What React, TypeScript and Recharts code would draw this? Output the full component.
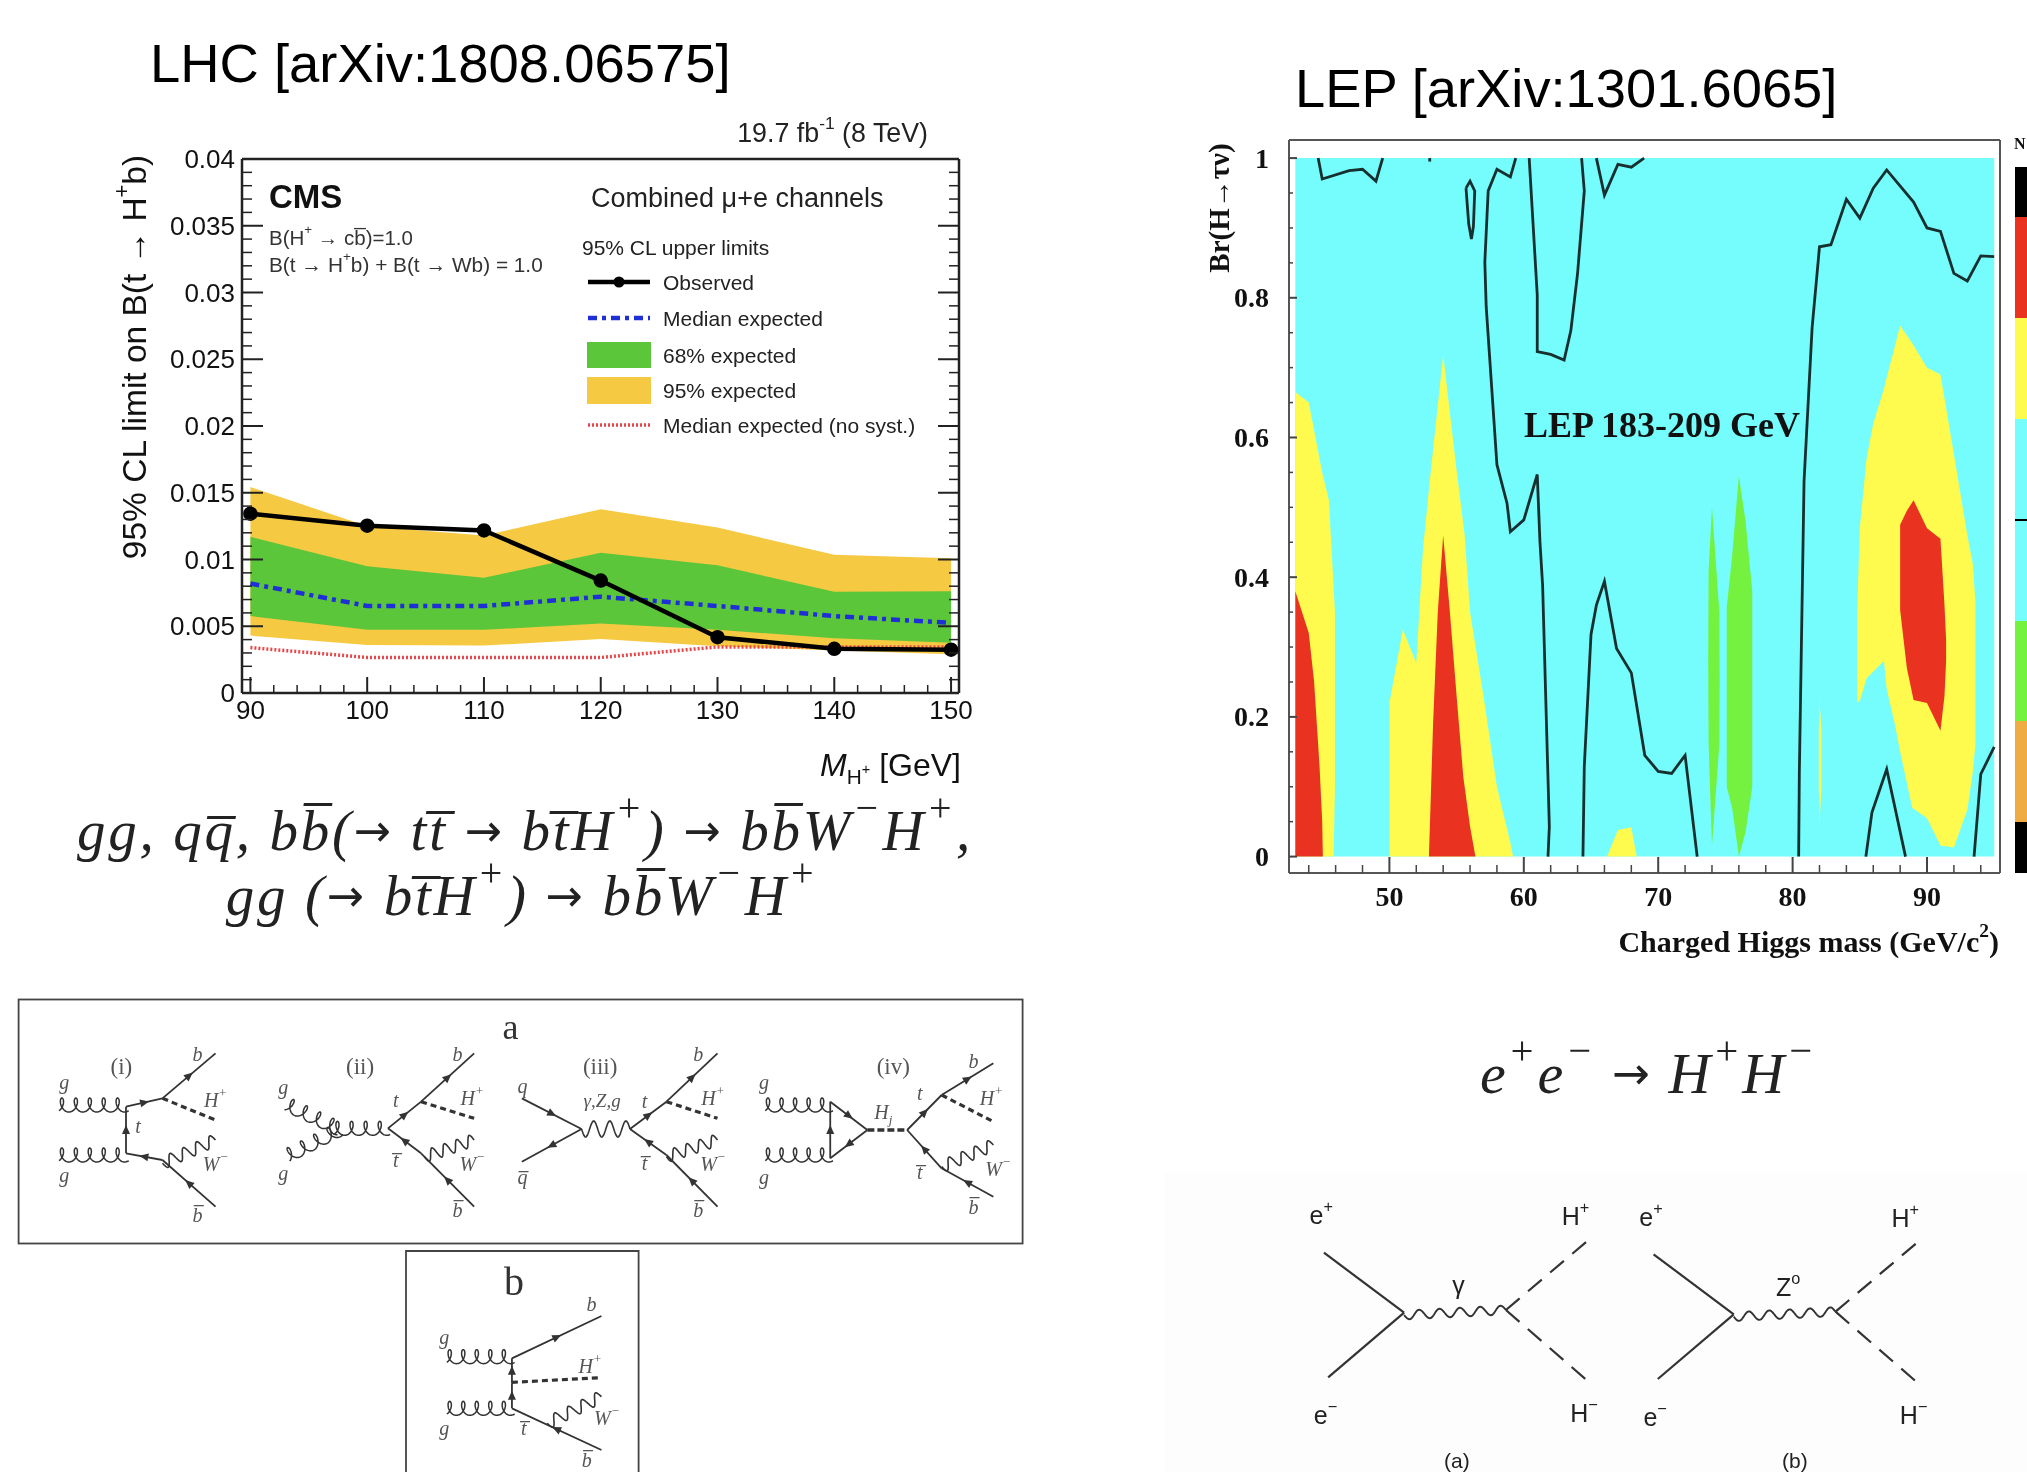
import { Area, ComposedChart, Line, XAxis, YAxis } from "recharts";

// ---- LHC limit plot values
const masses = [90, 100, 110, 120, 130, 140, 150];
const observed = [0.01343, 0.01253, 0.01218, 0.00842, 0.00418, 0.00331, 0.00324];
const median = [0.0082, 0.00652, 0.00652, 0.00721, 0.00652, 0.00576, 0.00525];
const medianNoSyst = [0.0034, 0.00266, 0.00266, 0.00266, 0.00345, 0.00345, 0.00345];
const up68 = [0.0117, 0.0095, 0.00863, 0.0105, 0.00956, 0.00759, 0.00763];
const low68 = [0.00576, 0.00473, 0.00473, 0.00521, 0.00473, 0.0041, 0.00376];
const up95 = [0.01543, 0.0125, 0.0118, 0.01377, 0.0124, 0.01035, 0.0101];
const low95 = [0.0043, 0.00359, 0.00355, 0.00404, 0.0035, 0.00318, 0.0029];

const lhcRows = masses.map((m, i) => ({
  m,
  observed: observed[i],
  median: median[i],
  medianNoSyst: medianNoSyst[i],
  band68: [low68[i], up68[i]],
  band95: [low95[i], up95[i]],
}));

const lhcXTicks = Array.from({ length: 31 }, (_, i) => 90 + i * 2);
const lhcYTicks = Array.from({ length: 41 }, (_, i) => Number((i * 0.001).toFixed(3)));

// ---- LEP exclusion regions: [mass, low, high]
const cyanAll = [[43, 0, 1], [95, 0, 1]];
const yellowLeft = [[43, 0, 0.665], [44, 0, 0.65], [45, 0, 0.55], [45.5, 0, 0.51], [45.95, 0, 0.35], [45.95, 0, 0.1], [45.85, 0, 0]];
const redLeft = [[43, 0, 0.38], [44, 0, 0.32], [44.4, 0, 0.25], [44.8, 0, 0.13], [45, 0, 0.05], [45.05, 0, 0]];
const yellowMid = [[50, 0, 0.22], [51, 0, 0.325], [52, 0, 0.277], [52.5, 0, 0.44], [53, 0, 0.537], [54, 0, 0.718], [55, 0, 0.553], [55.6, 0, 0.46], [56, 0, 0.35], [57, 0, 0.23], [58, 0, 0.1], [59, 0, 0.02], [59.2, 0, 0]];
const redMid = [[52.94, 0, 0], [53.25, 0, 0.19], [53.6, 0, 0.35], [54, 0, 0.46], [54.5, 0, 0.35], [55, 0, 0.23], [55.5, 0, 0.114], [56, 0, 0.043], [56.4, 0, 0]];
const yellowSmall = [[66.2, 0, 0], [67, 0, 0.038], [68, 0, 0.042], [68.4, 0, 0]];
const yellowSliver = [[81.95, 0.1, 0.18], [82, 0.047, 0.224], [82.15, 0.1, 0.18]];
const greenA = [[73.72, 0.28, 0.28], [73.75, 0.16, 0.41], [74, 0.016, 0.5], [74.55, 0.16, 0.35], [74.57, 0.25, 0.25]];
const greenB = [[75.1, 0.1, 0.357], [75.5, 0.07, 0.43], [76, 0, 0.545], [76.5, 0.035, 0.48], [77, 0.1, 0.38]];
const yellowRight = [[84.8, 0.22, 0.35], [85, 0.223, 0.47], [85.5, 0.255, 0.57], [86, 0.265, 0.62], [86.8, 0.28, 0.67], [87, 0.24, 0.686], [87.6, 0.19, 0.73], [88, 0.15, 0.76], [88.9, 0.07, 0.735], [90, 0.055, 0.7], [91, 0.016, 0.69], [92, 0.013, 0.576], [93, 0.067, 0.46], [93.4, 0.12, 0.42], [93.6, 0.16, 0.365]];
const redRight = [[88, 0.353, 0.475], [88.5, 0.27, 0.495], [89, 0.224, 0.51], [90, 0.22, 0.47], [91, 0.18, 0.455], [91.3, 0.23, 0.36], [91.42, 0.28, 0.31]];

// ---- LEP contour lines: [mass, Br]
const contourA = [[44.7, 1], [45, 0.97], [47, 0.982], [48, 0.984], [49, 0.967], [49.5, 1]];
const contourB = [[53, 0.995], [53, 1]];
const contourC = [[55.7, 0.957], [56, 0.967], [56.35, 0.953], [56.25, 0.902], [56.1, 0.884], [55.9, 0.906], [55.7, 0.957]];
const contourD = [[59.4, 1], [59, 0.973], [58, 0.984], [57.35, 0.953], [57.1, 0.851], [57.2, 0.788], [58, 0.561], [58.75, 0.506], [59, 0.465], [60, 0.482], [61, 0.547], [61.2, 0.451], [61.4, 0.388], [61.9, 0.043], [61.8, 0]];
const contourE = [[60.4, 1], [61, 0.804], [61, 0.723], [62, 0.719], [63, 0.711], [63.5, 0.753], [64, 0.835], [64.5, 0.953], [64.3, 1]];
const contourF = [[65.4, 1], [66, 0.947], [67, 0.991], [68, 0.987], [68.95, 1]];
const contourG = [[64.4, 0], [64.5, 0.129], [65, 0.318], [65.4, 0.36], [66, 0.394], [66.9, 0.298], [68, 0.263], [69, 0.145], [70, 0.122], [71, 0.119], [72, 0.145], [72.9, 0]];
const contourH = [[80.45, 0], [80.5, 0.12], [80.85, 0.537], [81.45, 0.757], [82, 0.873], [82.85, 0.876], [84, 0.941], [85, 0.914], [86, 0.957], [87, 0.983], [89, 0.937], [90, 0.9], [91, 0.895], [92, 0.835], [93, 0.824], [94, 0.86], [95, 0.859]];
const contourI = [[85.45, 0], [85.9, 0.063], [87, 0.125], [88.4, 0]];
const contourJ = [[93.5, 0], [94, 0.118], [95, 0.157]];

const filledRegions: [number[][], string][] = [
  [cyanAll, "#75fdfe"],
  [yellowLeft, "#fefb4e"],
  [redLeft, "#e9321f"],
  [yellowMid, "#fefb4e"],
  [redMid, "#e9321f"],
  [yellowSmall, "#fefb4e"],
  [yellowSliver, "#fefb4e"],
  [greenA, "#74f23f"],
  [greenB, "#74f23f"],
  [yellowRight, "#fefb4e"],
  [redRight, "#e9321f"],
];
const contours = [contourA, contourB, contourC, contourD, contourE, contourF, contourG, contourH, contourI, contourJ];

const lepXTicks = Array.from({ length: 26 }, (_, i) => 44 + i * 2);
const lepYTicks = Array.from({ length: 21 }, (_, i) => Number((i * 0.05).toFixed(2)));

// colour key cut off by the right page edge
const keyColors = ["#000", "#e9321f", "#fefb4e", "#75fdfe", "#74f23f", "#efac45", "#000"];
const keyEdges = [167, 217, 318, 419, 621, 721, 822, 873];

const SANS = "'Liberation Sans', Arial, sans-serif";
const SERIF = "'Liberation Serif', 'Times New Roman', serif";

type TickSide = "bottom" | "top" | "left" | "right";

function frameTick(
  side: TickSide,
  isMajor: (v: number) => boolean,
  majorLen: number,
  minorLen: number,
  stroke: string,
  label?: { font: string; size: number; weight: number; gap: number },
) {
  return (props: any) => {
    const { x, y, payload } = props;
    const v = payload.value as number;
    const major = isMajor(v);
    const len = major ? majorLen : minorLen;
    const dx = side === "left" ? len : side === "right" ? -len : 0;
    const dy = side === "bottom" ? -len : side === "top" ? len : 0;
    return (
      <g>
        <line x1={x} y1={y} x2={x + dx} y2={y + dy} stroke={stroke} strokeWidth={major ? 2 : 1.5} />
        {label && major && side === "bottom" && (
          <text x={x} y={y + label.gap} textAnchor="middle" dominantBaseline="central" fontFamily={label.font} fontSize={label.size} fontWeight={label.weight} fill="#111">
            {v}
          </text>
        )}
        {label && major && side === "left" && (
          <text x={x - label.gap} y={y} textAnchor="end" dominantBaseline="central" fontFamily={label.font} fontSize={label.size} fontWeight={label.weight} fill="#111">
            {v}
          </text>
        )}
      </g>
    );
  };
}

function LhcChart() {
  const xDomain: [number, number] = [89.28, 150.68];
  const yDomain: [number, number] = [0, 0.04];
  const majorX = (v: number) => v % 10 === 0;
  const majorY = (v: number) => Math.round(v * 1000) % 5 === 0;
  const frame = { stroke: "#222", strokeWidth: 2.5 };
  const tickFont = { font: SANS, size: 26, weight: 400, gap: 17 };
  const common = { allowDataOverflow: true, interval: 0 as const, tickSize: 0, tickMargin: 0, tickLine: false, axisLine: frame };
  return (
    <div style={{ position: "absolute", left: 140, top: 130 }}>
      <ComposedChart width={840} height={610} data={lhcRows} margin={{ left: 101, right: 20, top: 28, bottom: 46 }}>
        <XAxis dataKey="m" type="number" domain={xDomain} ticks={lhcXTicks} height={1} {...common} tick={frameTick("bottom", majorX, 16, 8, "#222", tickFont)} />
        <XAxis xAxisId="top" orientation="top" type="number" domain={xDomain} ticks={lhcXTicks} height={1} {...common} tick={frameTick("top", majorX, 16, 8, "#222")} />
        <YAxis type="number" domain={yDomain} ticks={lhcYTicks} width={1} {...common} tick={frameTick("left", majorY, 21, 10, "#222", { ...tickFont, gap: 7 })} />
        <YAxis yAxisId="right" orientation="right" type="number" domain={yDomain} ticks={lhcYTicks} width={1} {...common} tick={frameTick("right", majorY, 21, 10, "#222")} />
        <Area dataKey="band95" fill="#f6c942" fillOpacity={1} stroke="none" isAnimationActive={false} />
        <Area dataKey="band68" fill="#5cc63b" fillOpacity={1} stroke="none" isAnimationActive={false} />
        <Line dataKey="medianNoSyst" stroke="#e8474a" strokeWidth={3.5} strokeDasharray="2 2" dot={false} isAnimationActive={false} />
        <Line dataKey="median" stroke="#1f2fd8" strokeWidth={4.5} strokeDasharray="9 5 4 5" dot={false} isAnimationActive={false} />
        <Line dataKey="observed" stroke="#000" strokeWidth={4.5} dot={{ r: 5, fill: "#000", stroke: "#000" }} isAnimationActive={false} />
      </ComposedChart>
    </div>
  );
}

function LepChart() {
  const xDomain: [number, number] = [42.53, 95.43];
  const yDomain: [number, number] = [-0.0235, 1.0259];
  const majorX = (v: number) => v % 10 === 0;
  const majorY = (v: number) => Math.round(v * 100) % 20 === 0;
  const frame = { stroke: "#555", strokeWidth: 2 };
  const tickFont = { font: SERIF, size: 28, weight: 700, gap: 39 };
  const common = { allowDataOverflow: true, interval: 0 as const, tickSize: 0, tickMargin: 0, tickLine: false, axisLine: frame };
  const noTick = () => <g />;
  return (
    <div style={{ position: "absolute", left: 1190, top: 110 }}>
      <ComposedChart width={825} height={810} margin={{ left: 98, right: 14, top: 29, bottom: 46 }}>
        <XAxis dataKey="x" type="number" domain={xDomain} ticks={lepXTicks} height={1} {...common} tick={frameTick("bottom", majorX, 16, 8, "#444", { ...tickFont, gap: 23 })} />
        <XAxis xAxisId="top" orientation="top" type="number" domain={xDomain} ticks={lepXTicks} height={1} {...common} tick={noTick} />
        <YAxis type="number" domain={yDomain} ticks={lepYTicks} width={1} {...common} tick={frameTick("left", majorY, 8, 4, "#444", { ...tickFont, gap: 20 })} />
        <YAxis yAxisId="right" orientation="right" type="number" domain={yDomain} ticks={lepYTicks} width={1} {...common} tick={noTick} />
        {filledRegions.map(([region, color], i) => (
          <Area
            key={i}
            data={region.map(([x, lo, hi]) => ({ x, range: [lo, hi] }))}
            dataKey="range"
            fill={color}
            fillOpacity={1}
            stroke="none"
            isAnimationActive={false}
          />
        ))}
        {contours.map((c, i) => (
          <Line
            key={i}
            data={c.map(([x, y]) => ({ x, y }))}
            dataKey="y"
            stroke="#17302f"
            strokeWidth={2.8}
            dot={false}
            isAnimationActive={false}
          />
        ))}
      </ComposedChart>
    </div>
  );
}

// ---- hand drawn Feynman diagram helpers, pixel coordinates
type P = [number, number];
const inkA = "#333";

function polyD(pts: P[]) {
  return pts.map((p, i) => `${i ? "L" : "M"}${p[0].toFixed(1)} ${p[1].toFixed(1)}`).join("");
}
function along(a: P, b: P, make: (t: number, L: number) => [number, number], steps = 120) {
  const L = Math.hypot(b[0] - a[0], b[1] - a[1]);
  const ux = (b[0] - a[0]) / L;
  const uy = (b[1] - a[1]) / L;
  const pts: P[] = [];
  for (let i = 0; i <= steps; i++) {
    const [u, v] = make(i / steps, L);
    pts.push([a[0] + ux * u - uy * v, a[1] + uy * u + ux * v]);
  }
  return polyD(pts);
}
function Fermion({ a, b, arrow = true, w = 1.8 }: { a: P; b: P; arrow?: boolean; w?: number }) {
  const mx = (a[0] + b[0]) / 2;
  const my = (a[1] + b[1]) / 2;
  const ang = (Math.atan2(b[1] - a[1], b[0] - a[0]) * 180) / Math.PI;
  return (
    <g>
      <line x1={a[0]} y1={a[1]} x2={b[0]} y2={b[1]} stroke={inkA} strokeWidth={w} />
      {arrow && <path d="M5 0L-4 -4L-4 4Z" transform={`translate(${mx} ${my}) rotate(${ang})`} fill={inkA} />}
    </g>
  );
}
function Gluon({ a, b, n = 5, r = 7 }: { a: P; b: P; n?: number; r?: number }) {
  const d = along(
    a,
    b,
    (t, L) => {
      const s = 2 * Math.PI * n * (t + 0.02);
      return [t * L + 4.5 * Math.sin(s), r * Math.cos(s)];
    },
    240,
  );
  return <path d={d} fill="none" stroke={inkA} strokeWidth={1.5} />;
}
function Wiggle({ a, b, n = 4, amp = 6, w = 1.6 }: { a: P; b: P; n?: number; amp?: number; w?: number }) {
  const d = along(a, b, (t, L) => [t * L, amp * Math.sin(2 * Math.PI * n * t)]);
  return <path d={d} fill="none" stroke={inkA} strokeWidth={w} />;
}
function Dash({ a, b, w = 3.2, dash = "6 4" }: { a: P; b: P; w?: number; dash?: string }) {
  return <line x1={a[0]} y1={a[1]} x2={b[0]} y2={b[1]} stroke={inkA} strokeWidth={w} strokeDasharray={dash} />;
}

// left-bottom panel: zoom crop units to page pixels
const A = (x: number, y: number): P => [x / 1.508, 980 + y / 3];
// right-bottom panel
const B = (x: number, y: number): P => [1200 + x / 1.896, 1030 + y / 3];

function Lab({ p, children, size = 20, anchor = "middle", font = SERIF, italic = true, fill = "#555" }: any) {
  return (
    <text x={p[0]} y={p[1]} fontSize={size} textAnchor={anchor} dominantBaseline="central" fontFamily={font} fontStyle={italic ? "italic" : "normal"} fill={fill}>
      {children}
    </text>
  );
}
const Sup = ({ children, size = "65%" }: any) => (
  <tspan baselineShift="super" fontSize={size}>
    {children}
  </tspan>
);
const Sub = ({ children }: any) => (
  <tspan baselineShift="sub" fontSize="65%">
    {children}
  </tspan>
);
const bar = (s: string) => `${s}\u0305`;
const Arrow = () => (
  <tspan fontFamily="'DejaVu Sans'" fontStyle="normal" fontSize="78%">
    →
  </tspan>
);

function ProductionDiagrams() {
  return (
    <g>
      <rect x={18.6} y={999.5} width={1004} height={244} fill="#fff" stroke="#444" strokeWidth={1.8} />
      <path d={`M406 1480V1251H638.6V1480`} fill="#fff" stroke="#444" strokeWidth={1.8} />
      <Lab p={A(770, 140)} size={36} italic={false} fill="#333">a</Lab>
      <Lab p={A(775, 905)} size={40} italic={false} fill="#333">b</Lab>

      {/* (i) */}
      <Gluon a={A(85, 375)} b={A(190, 375)} />
      <Gluon a={A(85, 525)} b={A(190, 525)} />
      <Fermion a={A(190, 520)} b={A(190, 380)} />
      <Fermion a={A(190, 380)} b={A(245, 355)} />
      <Fermion a={A(245, 355)} b={A(325, 220)} />
      <Dash a={A(245, 355)} b={A(325, 420)} />
      <Fermion a={A(245, 540)} b={A(190, 520)} />
      <Fermion a={A(325, 680)} b={A(245, 540)} />
      <Wiggle a={A(245, 550)} b={A(325, 480)} />
      <Lab p={A(97, 305)}>g</Lab><Lab p={A(97, 585)}>g</Lab>
      <Lab p={A(183, 258)} size={23} italic={false}>(i)</Lab>
      <Lab p={A(298, 222)}>b</Lab><Lab p={A(325, 360)}>H<Sup>+</Sup></Lab>
      <Lab p={A(208, 438)}>t</Lab><Lab p={A(325, 552)}>W<Sup>−</Sup></Lab><Lab p={A(298, 705)}>{bar("b")}</Lab>

      {/* (ii) */}
      <Gluon a={A(430, 370)} b={A(510, 445)} n={4} />
      <Gluon a={A(430, 530)} b={A(510, 450)} n={4} />
      <Gluon a={A(500, 445)} b={A(585, 445)} n={4} />
      <Fermion a={A(585, 445)} b={A(635, 365)} />
      <Fermion a={A(635, 365)} b={A(715, 220)} />
      <Dash a={A(635, 365)} b={A(715, 415)} />
      <Fermion a={A(635, 520)} b={A(585, 445)} />
      <Fermion a={A(715, 680)} b={A(635, 520)} />
      <Wiggle a={A(640, 530)} b={A(715, 480)} />
      <Lab p={A(427, 320)}>g</Lab><Lab p={A(427, 580)}>g</Lab>
      <Lab p={A(543, 258)} size={23} italic={false}>(ii)</Lab>
      <Lab p={A(690, 222)}>b</Lab><Lab p={A(597, 360)}>t</Lab><Lab p={A(712, 355)}>H<Sup>+</Sup></Lab>
      <Lab p={A(597, 540)}>{bar("t")}</Lab><Lab p={A(712, 552)}>W<Sup>−</Sup></Lab><Lab p={A(690, 690)}>{bar("b")}</Lab>

      {/* (iii) */}
      <Fermion a={A(787, 355)} b={A(877, 447)} />
      <Fermion a={A(877, 447)} b={A(787, 545)} />
      <Wiggle a={A(877, 447)} b={A(950, 447)} n={3} amp={8} />
      <Fermion a={A(950, 447)} b={A(1005, 365)} />
      <Fermion a={A(1005, 365)} b={A(1082, 220)} />
      <Dash a={A(1005, 365)} b={A(1082, 415)} />
      <Fermion a={A(1005, 525)} b={A(950, 447)} />
      <Fermion a={A(1082, 680)} b={A(1005, 525)} />
      <Wiggle a={A(1005, 530)} b={A(1082, 480)} />
      <Lab p={A(788, 318)}>q</Lab><Lab p={A(788, 590)}>{bar("q")}</Lab>
      <Lab p={A(905, 258)} size={23} italic={false}>(iii)</Lab>
      <Lab p={A(908, 362)} size={19}>γ,Z,g</Lab>
      <Lab p={A(1053, 222)}>b</Lab><Lab p={A(972, 362)}>t</Lab><Lab p={A(1075, 355)}>H<Sup>+</Sup></Lab>
      <Lab p={A(972, 550)}>{bar("t")}</Lab><Lab p={A(1075, 552)}>W<Sup>−</Sup></Lab><Lab p={A(1053, 690)}>{bar("b")}</Lab>

      {/* (iv) */}
      <Gluon a={A(1150, 375)} b={A(1252, 375)} />
      <Gluon a={A(1150, 525)} b={A(1252, 525)} />
      <Fermion a={A(1252, 365)} b={A(1308, 450)} />
      <Fermion a={A(1308, 450)} b={A(1252, 535)} />
      <Fermion a={A(1252, 535)} b={A(1252, 365)} />
      <Dash a={A(1308, 450)} b={A(1368, 450)} w={3.5} dash="7 3" />
      <Fermion a={A(1368, 450)} b={A(1420, 345)} />
      <Fermion a={A(1420, 345)} b={A(1498, 250)} />
      <Dash a={A(1420, 345)} b={A(1498, 425)} />
      <Fermion a={A(1420, 565)} b={A(1368, 450)} />
      <Fermion a={A(1498, 650)} b={A(1420, 565)} />
      <Wiggle a={A(1420, 560)} b={A(1498, 495)} />
      <Lab p={A(1152, 305)}>g</Lab><Lab p={A(1152, 590)}>g</Lab>
      <Lab p={A(1347, 258)} size={23} italic={false}>(iv)</Lab>
      <Lab p={A(1332, 395)}>H<Sub>j</Sub></Lab><Lab p={A(1387, 340)}>t</Lab><Lab p={A(1468, 242)}>b</Lab>
      <Lab p={A(1495, 355)}>H<Sup>+</Sup></Lab><Lab p={A(1387, 575)}>{bar("t")}</Lab>
      <Lab p={A(1505, 567)}>W<Sup>−</Sup></Lab><Lab p={A(1468, 680)}>{bar("b")}</Lab>

      {/* panel b */}
      <Gluon a={A(670, 1130)} b={A(772, 1130)} />
      <Gluon a={A(670, 1285)} b={A(772, 1285)} />
      <Fermion a={A(772, 1210)} b={A(772, 1135)} />
      <Fermion a={A(772, 1285)} b={A(772, 1210)} />
      <Fermion a={A(772, 1135)} b={A(907, 1008)} />
      <Dash a={A(772, 1207)} b={A(907, 1193)} />
      <Fermion a={A(907, 1410)} b={A(772, 1285)} />
      <Wiggle a={A(825, 1330)} b={A(907, 1250)} />
      <Lab p={A(670, 1070)}>g</Lab><Lab p={A(670, 1345)}>g</Lab>
      <Lab p={A(892, 972)}>b</Lab><Lab p={A(890, 1158)}>H<Sup>+</Sup></Lab>
      <Lab p={A(790, 1345)}>{bar("t")}</Lab><Lab p={A(915, 1315)}>W<Sup>−</Sup></Lab><Lab p={A(885, 1440)}>{bar("b")}</Lab>
    </g>
  );
}

function PairDiagram({ dx, dy, mid, tag, tagX }: { dx: number; dy: number; mid: any; tag: string; tagX: number }) {
  const Q = (x: number, y: number) => B(x + dx, y + dy);
  const sans = { font: SANS, italic: false, fill: "#222", size: 25 };
  return (
    <g>
      <Fermion a={Q(235, 668)} b={Q(387, 848)} arrow={false} w={2.2} />
      <Fermion a={Q(243, 1042)} b={Q(387, 848)} arrow={false} w={2.2} />
      <Wiggle a={Q(387, 855)} b={Q(580, 840)} n={5} amp={4.5} w={1.9} />
      <Dash a={Q(580, 840)} b={Q(733, 635)} w={2.2} dash="18 11" />
      <Dash a={Q(580, 840)} b={Q(733, 1050)} w={2.2} dash="18 11" />
      <Lab p={Q(230, 555)} {...sans}>e<Sup>+</Sup></Lab>
      <Lab p={Q(712, 558)} {...sans}>H<Sup>+</Sup></Lab>
      <Lab p={Q(238, 1155)} {...sans}>e<Sup>−</Sup></Lab>
      <Lab p={Q(728, 1150)} {...sans}>H<Sup>−</Sup></Lab>
      <Lab p={Q(490, 765)} {...sans}>{mid}</Lab>
      <Lab p={B(tagX, 1290)} {...sans} size={21}>{tag}</Lab>
    </g>
  );
}

function Overlay() {
  const legendText = { fontFamily: SANS, fontSize: 21, fill: "#222" };
  const ty = (y: number) => ({ y, dominantBaseline: "central" as const });
  const eq = { fontFamily: SERIF, fontStyle: "italic", fill: "#222" };
  return (
    <svg width={2027} height={1472} style={{ position: "absolute", left: 0, top: 0, pointerEvents: "none" }}>
      {/* titles */}
      <text x={150} {...ty(63)} fontFamily={SANS} fontSize={54.4} fill="#000">LHC [arXiv:1808.06575]</text>
      <text x={1295} {...ty(88)} fontFamily={SANS} fontSize={54.3} fill="#000">LEP [arXiv:1301.6065]</text>

      {/* LHC annotations */}
      <text x={928} {...ty(133)} textAnchor="end" fontFamily={SANS} fontSize={26.8} fill="#222">19.7 fb<Sup>-1</Sup> (8 TeV)</text>
      <text x={269} {...ty(196)} fontFamily={SANS} fontSize={33} fontWeight={700} fill="#111">CMS</text>
      <text x={269} {...ty(237)} fontFamily={SANS} fontSize={20.5} fill="#333">B(H<Sup>+</Sup> → c{bar("b")})=1.0</text>
      <text x={269} {...ty(264)} fontFamily={SANS} fontSize={20.8} fill="#333">B(t → H<Sup>+</Sup>b) + B(t → Wb) = 1.0</text>
      <text x={591} {...ty(198)} fontFamily={SANS} fontSize={27} fill="#222">Combined μ+e channels</text>
      <text x={582} {...ty(247)} {...legendText}>95% CL upper limits</text>

      <line x1={588} x2={650} y1={282} y2={282} stroke="#000" strokeWidth={4.5} />
      <circle cx={619} cy={282} r={5.5} fill="#000" />
      <text x={663} {...ty(282)} {...legendText}>Observed</text>
      <line x1={588} x2={650} y1={318} y2={318} stroke="#1f2fd8" strokeWidth={4.5} strokeDasharray="9 5 4 5" />
      <text x={663} {...ty(318)} {...legendText}>Median expected</text>
      <rect x={587} y={342} width={64} height={26} fill="#5cc63b" />
      <text x={663} {...ty(355)} {...legendText}>68% expected</text>
      <rect x={587} y={377} width={64} height={27} fill="#f6c942" />
      <text x={663} {...ty(390)} {...legendText}>95% expected</text>
      <line x1={588} x2={650} y1={425} y2={425} stroke="#e8474a" strokeWidth={3.5} strokeDasharray="2 2" />
      <text x={663} {...ty(425)} {...legendText}>Median expected (no syst.)</text>

      <text transform="translate(134 357) rotate(-90)" textAnchor="middle" dominantBaseline="central" fontFamily={SANS} fontSize={33.5} fill="#111">
        95% CL limit on B(t → H<Sup>+</Sup>b)
      </text>
      <text x={961} {...ty(765)} textAnchor="end" fontFamily={SANS} fontSize={32} fill="#111">
        <tspan fontStyle="italic">M</tspan><Sub>H<tspan fontSize="70%" baselineShift="super">+</tspan></Sub> [GeV]
      </text>

      {/* process equations */}
      <text x={525} {...ty(830)} textAnchor="middle" {...eq} fontSize={57} letterSpacing={2.7}>
        gg, q{bar("q")}, b{bar("b")}(<Arrow /> t{bar("t")} <Arrow /> b{bar("t")}H<Sup size="70%">+</Sup>) <Arrow /> b{bar("b")}W<Sup size="70%">−</Sup>H<Sup size="70%">+</Sup>,
      </text>
      <text x={522} {...ty(895)} textAnchor="middle" {...eq} fontSize={57} letterSpacing={2.7}>
        gg (<Arrow /> b{bar("t")}H<Sup size="70%">+</Sup>) <Arrow /> b{bar("b")}W<Sup size="70%">−</Sup>H<Sup size="70%">+</Sup>
      </text>
      <text x={1648} {...ty(1073)} textAnchor="middle" {...eq} fontSize={58} letterSpacing={2.2}>
        e<Sup size="70%">+</Sup>e<Sup size="70%">−</Sup> <Arrow /> H<Sup size="70%">+</Sup>H<Sup size="70%">−</Sup>
      </text>

      {/* LEP annotations */}
      <text x={1662} {...ty(425)} textAnchor="middle" fontFamily={SERIF} fontWeight={700} fontSize={36} fill="#111">LEP 183-209 GeV</text>
      <text x={1999} {...ty(941)} textAnchor="end" fontFamily={SERIF} fontWeight={700} fontSize={30} fill="#111">
        Charged Higgs mass (GeV/c<Sup>2</Sup>)
      </text>
      <text transform="translate(1219 208) rotate(-90)" textAnchor="middle" dominantBaseline="central" fontFamily={SERIF} fontWeight={700} fontSize={29} fill="#111">
        Br(H→τν)
      </text>

      {/* colour key, cut off by the page */}
      <text x={2014} {...ty(143)} fontFamily={SERIF} fontWeight={700} fontSize={16} fill="#111">N</text>
      {keyColors.map((c, i) => (
        <rect key={i} x={2015} y={keyEdges[i]} width={14} height={keyEdges[i + 1] - keyEdges[i]} fill={c} />
      ))}
      <line x1={2015} x2={2027} y1={520} y2={520} stroke="#000" strokeWidth={2} />

      <ProductionDiagrams />

      <rect x={1165} y={1173} width={862} height={299} fill="#fdfdfd" />
      <PairDiagram dx={0} dy={0} mid="γ" tag="(a)" tagX={487} />
      <PairDiagram dx={625} dy={5} mid={<>Z<Sup>o</Sup></>} tag="(b)" tagX={1128} />
    </svg>
  );
}

export default function App() {
  return (
    <div style={{ position: "absolute", left: 0, top: 0, width: 2027, height: 1472, overflow: "hidden", background: "#fff", filter: "blur(0.7px)" }}>
      <LhcChart />
      <LepChart />
      <Overlay />
    </div>
  );
}
